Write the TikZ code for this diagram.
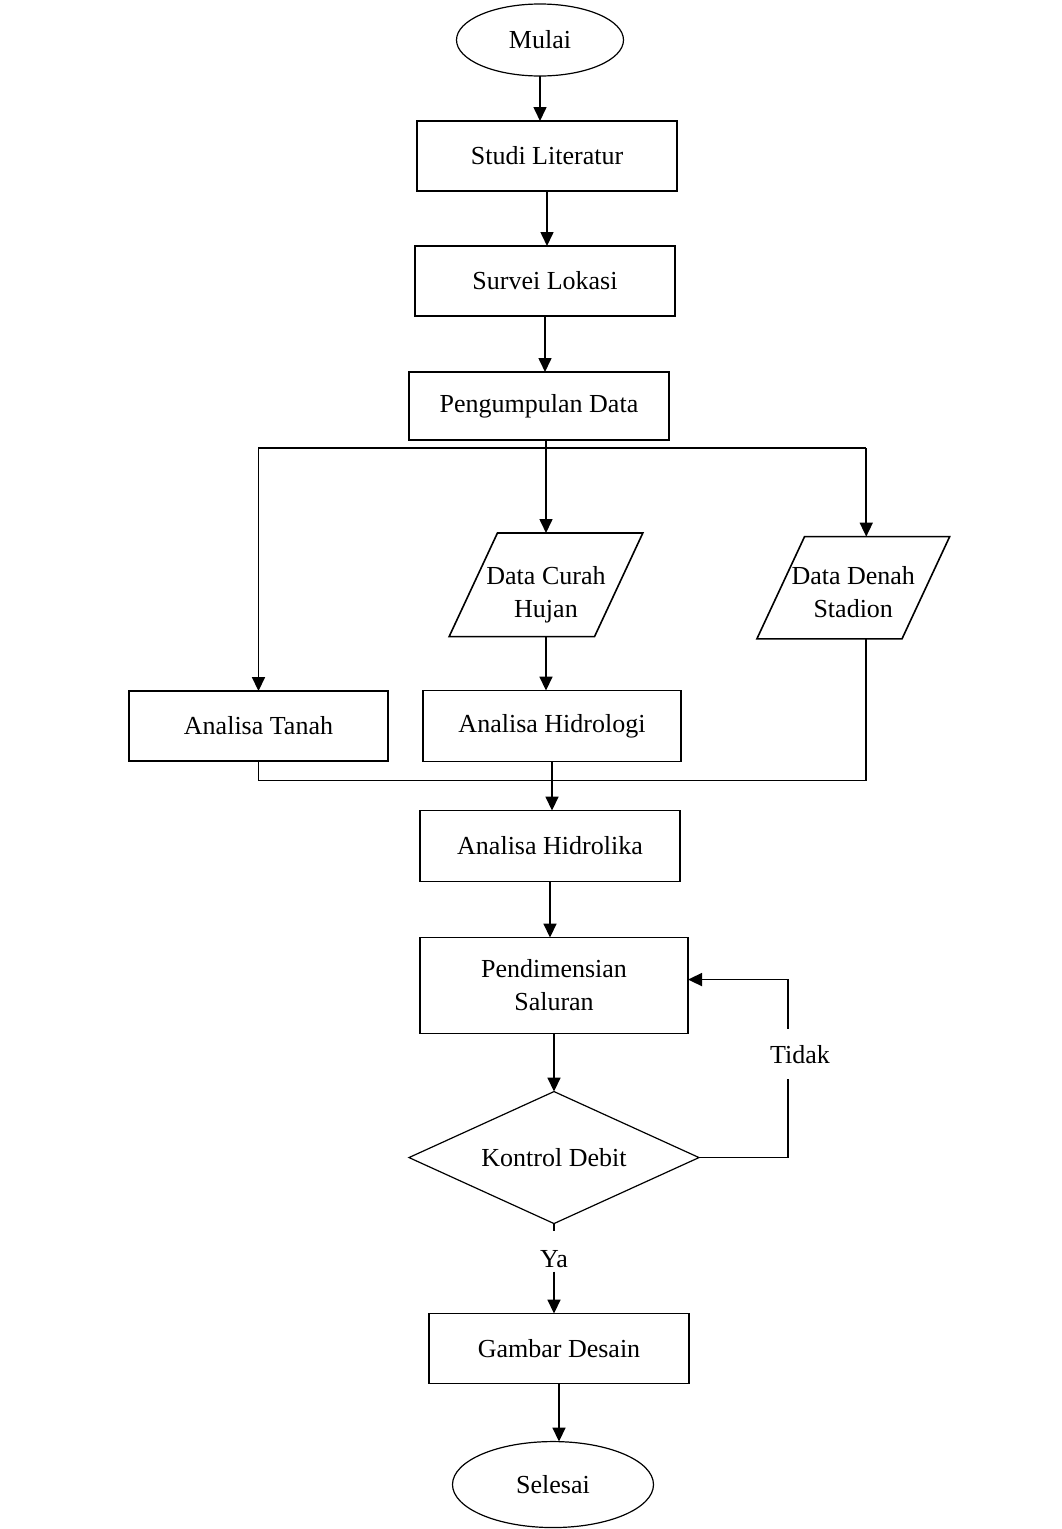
\documentclass[tikz,border=0pt]{standalone}
\usepackage{fontspec}
\setmainfont{Liberation Serif}
\usetikzlibrary{positioning, arrows.meta, calc, shapes.geometric}

\begin{document}
\begin{tikzpicture}[
  x=1pt, y=1pt,
  node distance=55pt,
  every node/.style={font=\fontsize{26}{33}\selectfont, outer sep=0pt},
  terminal/.style={ellipse, draw, line width=1.2pt, minimum width=167pt, minimum height=72pt, inner sep=0pt},
  box/.style={rectangle, draw, line width=1.8pt, minimum width=260pt, minimum height=70pt, align=center, inner sep=4pt},
  datain/.style={trapezium, trapezium left angle=65, trapezium right angle=115, trapezium stretches body, draw, line width=1.6pt, align=center, inner xsep=-11pt, inner ysep=14pt},
  decision/.style={diamond, draw, line width=1.2pt, minimum width=290pt, minimum height=132pt, shape aspect=2.2, inner sep=0pt},
  conn/.style={line width=1.6pt},
  arr/.style={conn, -{Triangle[length=14pt, width=13pt]}}
]
\useasboundingbox (0,0) rectangle (1061,-1529);

\node[terminal] (mulai) at (540,-40) {Mulai};
\node[box, below=45pt of mulai, xshift=7pt] (studi) {Studi Literatur};
\node[box, below=of studi, xshift=-2pt] (survei) {Survei Lokasi};
\node[box, below=56pt of survei, xshift=-6pt, minimum height=68pt] (kumpul) {Pengumpulan Data};
\node[datain, below=93pt of kumpul, xshift=7pt] (curah) {\rule{0pt}{37pt}Data Curah\\Hujan};
\node[datain, right=162pt of curah, yshift=-3pt, inner xsep=-13pt, inner ysep=21pt] (denah) {\rule{0pt}{27pt}Data Denah\\Stadion};
\node[box, below=54pt of curah, xshift=6pt, minimum width=258pt, minimum height=71pt] (hidrologi) {Analisa Hidrologi};
\node[box, left=35pt of hidrologi, minimum width=259pt] (tanah) {Analisa Tanah};
\node[box, below=49pt of hidrologi, xshift=-2pt, minimum height=71pt] (hidrolika) {Analisa Hidrolika};
\node[box, below=56pt of hidrolika, xshift=4pt, minimum width=268pt, minimum height=96pt] (dimensi) {Pendimensian\\Saluran};
\node[decision, below=58pt of dimensi] (kontrol) {Kontrol Debit};
\node[below=24pt of kontrol] (ya) {Ya};
\node[box, below=90pt of kontrol, xshift=5pt] (gambar) {Gambar Desain};
\node[terminal, below=58pt of gambar, xshift=-6pt, minimum width=201pt, minimum height=86pt] (selesai) {Selesai};

\coordinate (denahx) at ([xshift=13pt]denah.center);
\coordinate[below=8pt of kumpul.south] (bus);
\coordinate[below=19pt of hidrologi.south] (join);
\coordinate[right=89pt of kontrol.east] (loop);
\coordinate (balik) at ([yshift=6pt]dimensi.east);

\draw[arr] (mulai) -- (mulai |- studi.north);
\draw[arr] (studi) -- (studi |- survei.north);
\draw[arr] (survei) -- (survei |- kumpul.north);

% cabang data
\draw[arr] (kumpul.south -| curah.north) -- (curah.north);
\draw[arr] (bus -| denahx) -- (bus -| tanah.north) -- (tanah.north);
\draw[arr] (bus -| denahx) -- (denahx |- denah.north);
\draw[arr] (curah) -- (curah |- hidrologi.north);

% gabung ke analisa hidrolika
\draw[conn] (tanah.south) -- (tanah.south |- join) -- (join -| denahx) -- (denahx |- denah.south);
\draw[arr] (hidrologi) -- (hidrologi |- hidrolika.north);
\draw[arr] (hidrolika) -- (hidrolika |- dimensi.north);
\draw[arr] (dimensi) -- (dimensi |- kontrol.north);

% kontrol
\draw[arr] (kontrol.east) -- (loop) -- (loop |- balik) -- (balik);
\node[fill=white, inner xsep=1pt, inner ysep=16pt, xshift=12pt] (tidak) at ($(loop)!0.58!(loop |- balik)$) {Tidak};
\draw[conn] (kontrol.south) -- ++(0,-7pt);
\draw[arr] (ya) -- (ya |- gambar.north);
\draw[arr] (gambar) -- (gambar |- selesai.north);
\end{tikzpicture}
\end{document}
